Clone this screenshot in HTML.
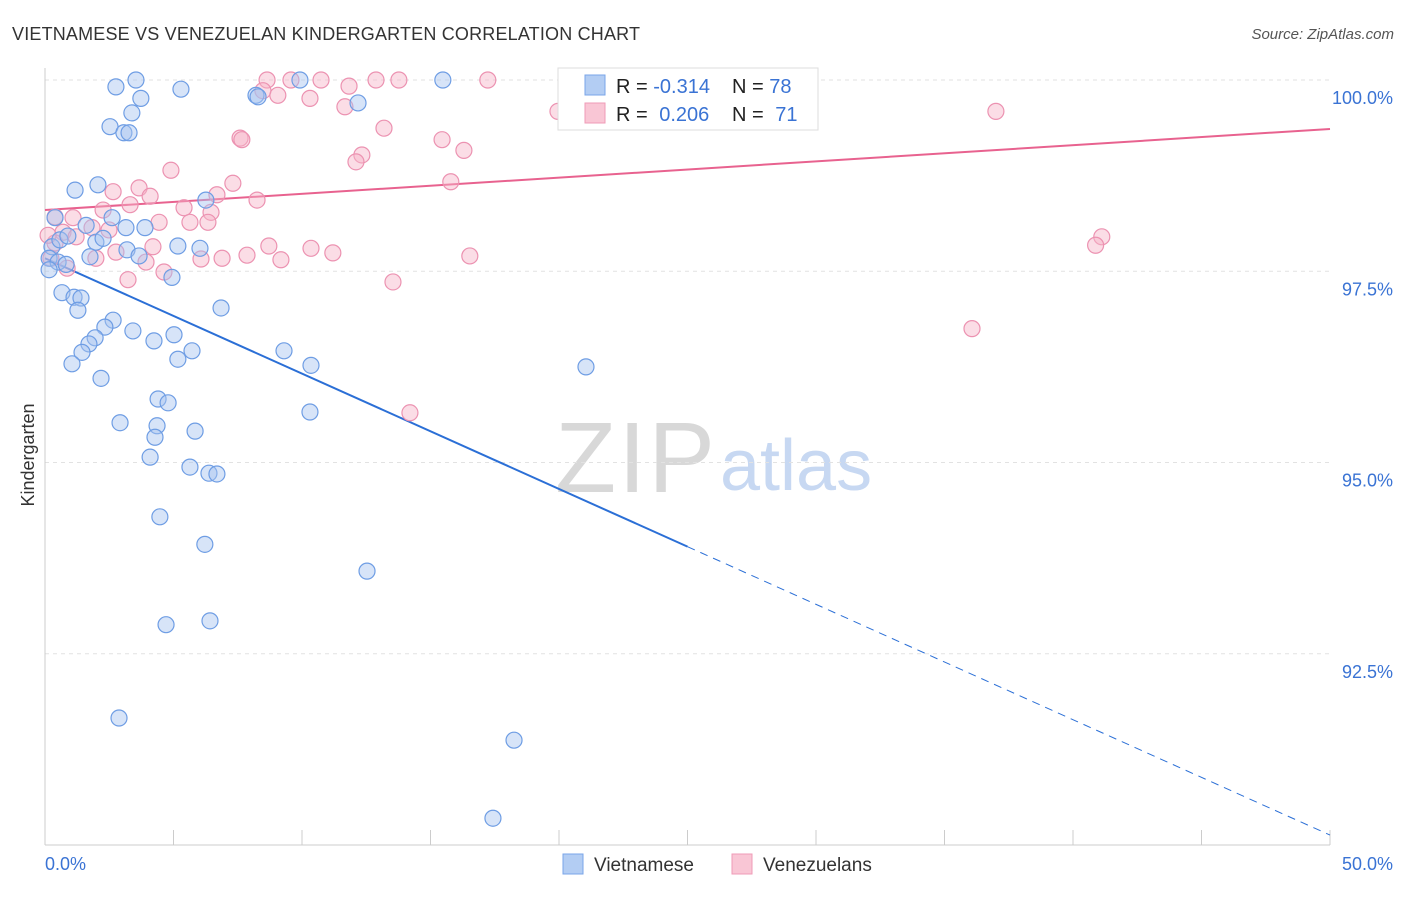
<!DOCTYPE html>
<html><head><meta charset="utf-8"><style>
body{margin:0;background:#fff;font-family:"Liberation Sans",sans-serif;}
svg text{font-family:"Liberation Sans",sans-serif;}
</style></head><body>
<svg id="chart" width="1406" height="892">
<text x="12" y="40" font-size="18" fill="#333" textLength="628">VIETNAMESE VS VENEZUELAN KINDERGARTEN CORRELATION CHART</text>
<text x="1394" y="39" font-size="15" fill="#555" font-style="italic" text-anchor="end">Source: ZipAtlas.com</text>
<g>
<text x="555" y="492" font-size="100" fill="#d8d8d8" font-family="Liberation Serif, serif" textLength="160">ZIP</text>
<text x="720" y="490" font-size="72" fill="#c7d8f2">atlas</text>
</g>
<g id="grid"></g>
<g id="axes"></g>
<g id="trend"></g>
<g id="points"></g>
<text transform="translate(34,455) rotate(-90)" font-size="18" fill="#333" text-anchor="middle">Kindergarten</text>
<g>
<rect x="558" y="68" width="260" height="62" fill="#fff" stroke="#ddd"/>
<rect x="585" y="75" width="20" height="20" fill="#b3cdf3" stroke="#7aa5e8"/>
<rect x="585" y="103" width="20" height="20" fill="#f9c6d5" stroke="#ef9bb7"/>
<text x="616" y="93" font-size="20" fill="#222">R = <tspan fill="#3a73d4">-0.314</tspan></text>
<text x="732" y="93" font-size="20" fill="#222">N = <tspan fill="#3a73d4">78</tspan></text>
<text x="616" y="121" font-size="20" fill="#222">R = <tspan fill="#3a73d4" dx="6">0.206</tspan></text>
<text x="732" y="121" font-size="20" fill="#222">N = <tspan fill="#3a73d4" dx="6">71</tspan></text>
</g>
<g>
<rect x="563" y="854" width="20" height="20" fill="#b3cdf3" stroke="#7aa5e8"/>
<text x="594" y="871" font-size="19" fill="#333">Vietnamese</text>
<rect x="732" y="854" width="20" height="20" fill="#f9c6d5" stroke="#ef9bb7"/>
<text x="763" y="871" font-size="19" fill="#333">Venezuelans</text>
</g>
</svg>
<script>
const xTicks=[0,5,10,15,20,25,30,35,40,45,50];
const yTicks=[100,97.5,95,92.5];
const yTickLabels=["100.0%","97.5%","95.0%","92.5%"];
const blueX=[2.76,3.54,3.73,5.29,3.38,2.53,3.07,3.27,8.21,8.29,9.92,15.48,12.18,1.17,2.06,0.39,1.60,2.61,3.15,3.89,6.26,0.27,0.58,0.89,1.98,2.26,0.16,0.51,0.82,1.75,3.19,3.66,5.17,6.03,4.94,0.16,0.66,1.13,1.40,1.28,6.85,2.65,2.33,3.42,1.95,1.71,1.44,4.24,5.02,5.72,5.17,9.30,10.35,1.05,2.18,21.05,4.40,4.79,10.31,2.92,4.36,4.28,5.84,4.09,5.64,6.38,6.69,4.47,6.22,12.53,4.71,6.42,2.88,18.25,17.43];
const blueY=[99.91,100,99.76,99.88,99.57,99.39,99.31,99.31,99.80,99.78,100,100,99.70,98.56,98.63,98.20,98.10,98.20,98.07,98.07,98.43,97.82,97.91,97.96,97.88,97.93,97.67,97.62,97.59,97.69,97.78,97.70,97.83,97.80,97.42,97.52,97.22,97.16,97.15,96.99,97.02,96.86,96.77,96.72,96.63,96.55,96.44,96.59,96.67,96.46,96.35,96.46,96.27,96.29,96.10,96.25,95.83,95.78,95.66,95.52,95.48,95.33,95.41,95.07,94.94,94.86,94.85,94.29,93.93,93.58,92.88,92.93,91.66,91.37,90.35];
const pinkX=[8.64,9.57,10.74,12.88,13.77,17.23,11.83,8.48,9.06,10.31,11.67,19.96,37.0,13.19,7.59,7.66,15.45,16.30,12.33,12.10,4.90,7.31,15.79,2.65,3.66,4.09,6.69,8.25,3.31,2.26,5.41,6.46,0.39,1.09,4.44,5.64,6.34,1.83,2.49,0.70,1.21,4.20,8.71,10.35,11.20,41.12,40.88,16.53,0.23,1.98,2.76,3.93,6.07,6.89,7.86,9.18,0.86,4.63,3.23,13.54,36.07,14.20,0.39,0.12];
const pinkY=[100,100,100,100,100,100,99.92,99.86,99.80,99.76,99.65,99.59,99.59,99.37,99.24,99.22,99.22,99.08,99.02,98.93,98.82,98.65,98.67,98.54,98.59,98.48,98.50,98.43,98.37,98.30,98.33,98.27,98.21,98.20,98.14,98.14,98.14,98.07,98.04,98.01,97.95,97.82,97.83,97.80,97.74,97.95,97.84,97.70,97.67,97.67,97.75,97.62,97.66,97.67,97.71,97.65,97.54,97.49,97.39,97.36,96.75,95.65,97.87,97.97];
const blueTrend=[97.67,90.13];
const pinkTrend=[98.30,99.36];
const NS="http://www.w3.org/2000/svg";
function sx(v){return 45+v/50*1285;}
function sy(v){return 80+(100-v)*76.5;}
function mk(tag,attrs,parent){const e=document.createElementNS(NS,tag);for(const k in attrs)e.setAttribute(k,attrs[k]);document.getElementById(parent).appendChild(e);return e;}
yTicks.forEach((t,i)=>{
 const g=mk('line',{x1:45,x2:1330,y1:sy(t),y2:sy(t),stroke:'#e2e2e2','stroke-dasharray':'4,4'},'grid');
 
 
 const l=mk('text',{x:1393,y:sy(t)+24,'font-size':18,fill:'#3a73d4','text-anchor':'end'},'axes');
 l.textContent=yTickLabels[i];
 
 
});
const xa=mk('line',{x1:45,x2:1330,y1:845,y2:845,stroke:'#ccc'},'axes');


const ya=mk('line',{x1:45,x2:45,y1:68,y2:845,stroke:'#ccc'},'axes');


xTicks.forEach(t=>{
 const k=mk('line',{x1:sx(t),x2:sx(t),y1:830,y2:845,stroke:'#ccc'},'axes');
 
 
});
const x0=mk('text',{x:45,y:870,'font-size':18,fill:'#3a73d4'},'axes');x0.textContent='0.0%';


const x1=mk('text',{x:1393,y:870,'font-size':18,fill:'#3a73d4','text-anchor':'end'},'axes');x1.textContent='50.0%';


function drawPts(xs,ys,fill,stroke,name){
 xs.forEach((x,i)=>{
  const c=mk('circle',{cx:sx(x),cy:sy(ys[i]),r:8,fill:fill,'fill-opacity':0.45,stroke:stroke,'stroke-width':1.2},'points');
  
  
 });
}
drawPts(pinkX,pinkY,'#f7b3c8','#ec92b1','venezuelan-point');
drawPts(blueX,blueY,'#a6c3ef','#6e9de4','vietnamese-point');
const bm=blueTrend[0]+(blueTrend[1]-blueTrend[0])*0.5;
const b1=mk('line',{x1:sx(0),y1:sy(blueTrend[0]),x2:sx(25),y2:sy(bm),stroke:'#2b6fd6','stroke-width':2},'trend');


const b2=mk('line',{x1:sx(25),y1:sy(bm),x2:sx(50),y2:sy(blueTrend[1]),stroke:'#2b6fd6','stroke-width':1,'stroke-dasharray':'8,6'},'trend');


const p1=mk('line',{x1:sx(0),y1:sy(pinkTrend[0]),x2:sx(50),y2:sy(pinkTrend[1]),stroke:'#e8628f','stroke-width':2},'trend');


</script>
</body></html>
